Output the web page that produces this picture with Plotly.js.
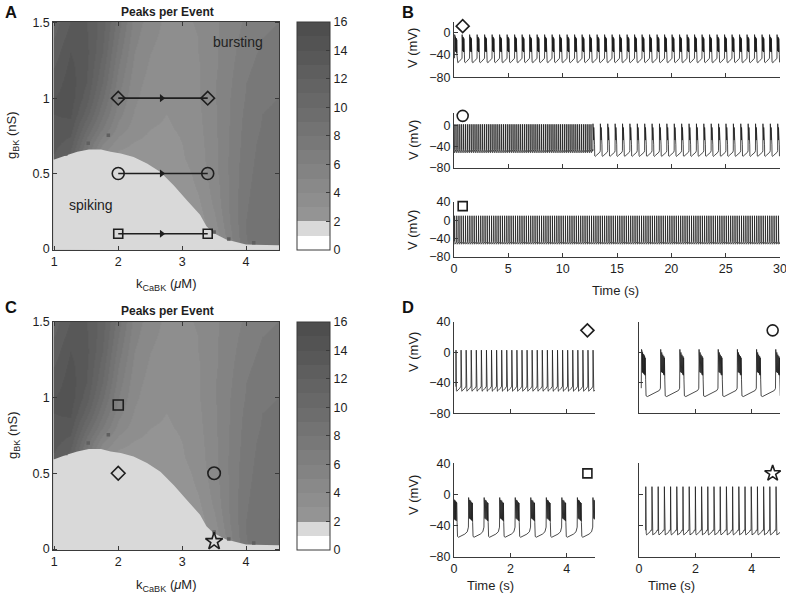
<!DOCTYPE html>
<html><head><meta charset="utf-8">
<script src="https://cdn.plot.ly/plotly-3.0.1.min.js"></script>
<style>body{margin:0;background:#fff}#chart{width:786px;height:598px}</style>
</head><body><div id="chart"></div>
<script>
// ---------------- heatmap data (Peaks per Event) ----------------
const K_GRID = [1, 1.25, 1.5, 1.75, 2, 2.25, 2.5, 2.75, 3, 3.25, 3.5, 3.75, 4, 4.25, 4.5];
const G_GRID = [0, 0.1, 0.2, 0.3, 0.4, 0.5, 0.6, 0.7, 0.8, 0.9, 1.0, 1.1, 1.2, 1.3, 1.4, 1.5];
const PEAKS = [
  [12.5, 11, 7, 3, 2.2, 2.2, 2.2, 2.2, 2.2, 2.2, 3.0, 5.5, 7.9, 8.7, 9.0],
  [12.5, 11, 7, 3, 2.2, 2.2, 2.2, 2.2, 2.2, 2.3, 3.3, 5.8, 8.0, 8.8, 9.0],
  [12.5, 11, 7, 3, 2.2, 2.2, 2.2, 2.2, 2.2, 2.5, 3.8, 6.1, 8.0, 8.8, 9.0],
  [12.5, 11, 7, 3, 2.2, 2.2, 2.2, 2.2, 2.3, 2.8, 4.2, 6.2, 7.9, 8.7, 8.9],
  [12.5, 11, 7, 3, 2.2, 2.2, 2.2, 2.2, 2.4, 3.1, 4.4, 6.2, 7.8, 8.6, 8.8],
  [12.5, 11, 7, 3, 2.2, 2.2, 2.2, 2.3, 2.6, 3.3, 4.6, 6.2, 7.7, 8.5, 8.7],
  [12.8, 11.5, 7.5, 3.5, 2.5, 2.4, 2.4, 2.5, 2.9, 3.5, 4.7, 6.2, 7.6, 8.4, 8.6],
  [13.3, 12.5, 8.5, 5.0, 3.4, 2.9, 2.7, 2.7, 3.0, 3.6, 4.7, 6.1, 7.5, 8.3, 8.5],
  [13.8, 13.5, 10, 7.0, 4.6, 3.5, 3.0, 2.9, 3.1, 3.7, 4.8, 6.1, 7.4, 8.1, 8.4],
  [14.0, 14.2, 11.5, 8.2, 5.4, 3.9, 3.2, 3.0, 3.2, 3.8, 4.8, 6.0, 7.3, 8.0, 8.2],
  [14.0, 14.5, 12.5, 9.2, 6.0, 4.2, 3.4, 3.2, 3.3, 3.9, 4.9, 6.0, 7.1, 7.8, 8.0],
  [13.5, 14.5, 13, 10, 6.5, 4.4, 3.6, 3.4, 3.4, 3.9, 4.9, 5.9, 7.0, 7.6, 7.8],
  [13.0, 14.3, 13.2, 10.5, 7.0, 4.7, 3.8, 3.5, 3.5, 3.9, 4.8, 5.8, 6.8, 7.4, 7.6],
  [12.5, 14.0, 13.3, 11, 7.5, 5.0, 4.0, 3.6, 3.6, 4.0, 4.8, 5.7, 6.6, 7.2, 7.4],
  [12.0, 13.5, 13.2, 11.3, 8.0, 5.3, 4.2, 3.7, 3.7, 4.0, 4.8, 5.6, 6.4, 7.0, 7.2],
  [11.5, 13.0, 13.0, 11.5, 8.5, 5.6, 4.4, 3.8, 3.8, 4.1, 4.8, 5.5, 6.2, 6.8, 7.0]
];
// spiking (1 peak per event) region: upper edge
const SPIKING_K = [1.0, 1.18, 1.36, 1.54, 1.73, 1.88, 2.04, 2.24, 2.45, 2.66, 2.87, 3.07, 3.28, 3.38, 3.49, 3.69, 4.0, 4.5];
const SPIKING_G = [0.593, 0.62, 0.644, 0.66, 0.66, 0.644, 0.633, 0.61, 0.567, 0.51, 0.42, 0.325, 0.226, 0.15, 0.105, 0.062, 0.029, 0.024];
// isolated cells with many peaks
const STRAY_K = [1.18, 1.53, 1.845, 3.5, 3.73, 4.12];
const STRAY_G = [0.63, 0.70, 0.754, 0.112, 0.066, 0.04];
// one grey per integer level 0..15
const LEVEL_GRAYS = [255, 217, 148, 142, 137, 131, 126, 120, 115, 109, 104, 99, 94, 88, 83, 78];
const CB_TICKS = [0, 2, 4, 6, 8, 10, 12, 14, 16];

// markers on the maps
const A_DIAMOND_K = [2, 3.4], A_DIAMOND_G = [1, 1];
const A_CIRCLE_K = [2, 3.4],  A_CIRCLE_G = [0.5, 0.5];
const A_SQUARE_K = [2, 3.4],  A_SQUARE_G = [0.1, 0.1];
const C_SQUARE = [2, 0.95], C_DIAMOND = [2, 0.5], C_CIRCLE = [3.5, 0.5], C_STAR = [3.5, 0.05];

// ---------------- voltage trace data ----------------
// single-event waveforms (time in s from event start, V in mV)
const TONIC_A_T = [0, 0.006, 0.012, 0.020, 0.032, 0.060, 0.100, 0.140, 0.170];
const TONIC_A_V = [-45, 3, -28, -50, -51, -50, -49, -47, -45];
const TONIC_B_T = [0, 0.006, 0.013, 0.022, 0.035, 0.070, 0.120, 0.160, 0.185];
const TONIC_B_V = [-46, 10, -28, -50, -52, -51, -50, -48, -46];
const BURST_C_T = [0, .010, .016, .022, .028, .034, .040, .046, .052, .058, .064, .070, .076, .082, .088, .094, .100, .106, .112, .118, .124, .130, .136, .142, .155, .170, .220, .320, .440, .560, .640, .670];
const BURST_C_V = [-47, 4, -24, 2, -25, 1, -26, 0, -26, -1, -27, -2, -27, -3, -28, -3, -28, -4, -29, -5, -29, -6, -30, -7, -36, -57, -58, -56, -54, -52, -50, -48];
const BURST_B_T = [0, .010, .017, .024, .031, .038, .045, .052, .059, .066, .073, .080, .087, .094, .101, .108, .115, .122, .129, .136, .143, .150, .157, .164, .171, .178, .185, .192, .199, .206, .220, .240, .300, .420, .540, .640, .680];
const BURST_B_V = [-46, -4, -30, -6, -31, -7, -32, -7, -32, -8, -33, -8, -33, -9, -34, -9, -34, -10, -35, -10, -35, -11, -35, -11, -36, -12, -36, -12, -37, -13, -40, -53, -54, -52, -50, -48, -47];
const BURST_S_T = [0, .008, .014, .020, .026, .032, .038, .044, .050, .056, .062, .068, .074, .080, .086, .092, .098, .104, .110, .116, .122, .128, .134, .140, .150, .165, .200, .300, .420, .510, .540];
const BURST_S_V = [-42, -4, -30, -6, -31, -6, -31, -7, -32, -7, -32, -8, -32, -8, -33, -9, -33, -9, -33, -10, -34, -10, -34, -11, -36, -54, -55, -53, -51, -48, -45];
// event timing: [first event start (s), period (s), number of events]
const B_DIAMOND_EVENTS = [0.05, 0.69, 44];
const B_CIRCLE_TONIC_EVENTS = [0.0, 0.175, 73];
const B_CIRCLE_BURST_EVENTS = [12.78, 0.68, 26];
const B_SQUARE_EVENTS = [0.05, 0.2, 150];
const D_DIAMOND_EVENTS = [0.065, 0.18, 28];
const D_CIRCLE_EVENTS = [0.08, 0.68, 8];
const D_SQUARE_EVENTS = [-0.04, 0.551, 10];
const D_STAR_EVENTS = [0.234, 0.22, 23];

// ---------------- helpers ----------------
const W = 786, H = 598;
const px = v => v / W, py = v => 1 - v / H;
const FONT = 'Liberation Sans, Arial, Helvetica, sans-serif';
const INK = '#1e1e1e', AX = '#3a3a3a';

function build(segs) {
  const x = [], y = [];
  segs.forEach(([ev, T, V]) => {
    const [s, p, n] = ev;
    for (let k = 0; k < n; k++) {
      const t0 = s + k * p;
      for (let i = 0; i < T.length; i++) { x.push(t0 + T[i]); y.push(V[i]); }
    }
  });
  return { x, y };
}

const colorscale = [];
LEVEL_GRAYS.forEach((g, i) => {
  const c = `rgb(${g},${g},${g})`;
  colorscale.push([i / 16, c]);
  colorscale.push([(i + 1) / 16, c]);
});

const traces = [];
function mapPanel(xa, ya, cbTop, cbLen) {
  traces.push({
    type: 'heatmap', x: K_GRID, y: G_GRID, z: PEAKS, xaxis: xa, yaxis: ya,
    zmin: 0, zmax: 16, zsmooth: 'best', colorscale: colorscale, hoverinfo: 'skip',
    colorbar: {
      x: px(296.5), xanchor: 'left', y: py(cbTop), yanchor: 'top',
      len: cbLen, lenmode: 'pixels', thickness: 33, thicknessmode: 'pixels',
      xpad: 0, ypad: 0, outlinewidth: 1, outlinecolor: AX, borderwidth: 0,
      tickmode: 'array', tickvals: CB_TICKS, ticks: 'inside', ticklen: 4, tickcolor: AX,
      tickfont: { size: 12.5, family: FONT, color: INK }
    }
  });
  const polyX = [0.9].concat(SPIKING_K, [4.6, 4.6, 0.9]);
  const polyY = [SPIKING_G[0]].concat(SPIKING_G, [SPIKING_G[SPIKING_G.length - 1], -0.1, -0.1]);
  traces.push({ type: 'scatter', mode: 'lines', x: polyX, y: polyY, fill: 'toself',
    fillcolor: 'rgb(217,217,217)', line: { width: 0, color: 'rgba(0,0,0,0)' }, xaxis: xa, yaxis: ya, hoverinfo: 'skip' });
  traces.push({ type: 'scatter', mode: 'markers', x: STRAY_K, y: STRAY_G, xaxis: xa, yaxis: ya,
    marker: { symbol: 'square', size: 3.5, color: 'rgb(95,95,95)' }, hoverinfo: 'skip' });
}
mapPanel('x', 'y', 21.7, 228.3);
mapPanel('x2', 'y2', 321.7, 228.3);

// A: paths with arrows
function path(xs, ys, sym, size) {
  traces.push({ type: 'scatter', mode: 'lines', x: xs, y: ys, xaxis: 'x', yaxis: 'y',
    line: { color: INK, width: 1.6 }, hoverinfo: 'skip' });
  traces.push({ type: 'scatter', mode: 'markers', x: [(xs[0] + xs[1]) / 2 - 0.02], y: [ys[0]], xaxis: 'x', yaxis: 'y',
    marker: { symbol: 'triangle-right', size: 7, color: INK }, hoverinfo: 'skip' });
  traces.push({ type: 'scatter', mode: 'markers', x: xs, y: ys, xaxis: 'x', yaxis: 'y',
    marker: { symbol: sym, size: size, color: INK, line: { width: 1.6, color: INK } }, hoverinfo: 'skip' });
}
path(A_DIAMOND_K, A_DIAMOND_G, 'diamond-open', 10.5);
path(A_CIRCLE_K, A_CIRCLE_G, 'circle-open', 12);
path(A_SQUARE_K, A_SQUARE_G, 'square-open', 9);

function mark(xa, ya, pt, sym, size) {
  traces.push({ type: 'scatter', mode: 'markers', x: [pt[0]], y: [pt[1]], xaxis: xa, yaxis: ya,
    marker: { symbol: sym, size: size, color: INK, line: { width: 1.6, color: INK } }, hoverinfo: 'skip', cliponaxis: false });
}
mark('x2', 'y2', C_SQUARE, 'square-open', 10);
mark('x2', 'y2', C_DIAMOND, 'diamond-open', 10.5);
mark('x2', 'y2', C_CIRCLE, 'circle-open', 12.5);
mark('x2', 'y2', C_STAR, 'star-open', 13);

// voltage traces
function vtrace(xa, ya, d) {
  traces.push({ type: 'scatter', mode: 'lines', x: d.x, y: d.y, xaxis: xa, yaxis: ya,
    line: { color: INK, width: 0.8 }, hoverinfo: 'skip' });
}
vtrace('x3', 'y3', build([[B_DIAMOND_EVENTS, BURST_B_T, BURST_B_V]]));
vtrace('x4', 'y4', build([[B_CIRCLE_TONIC_EVENTS, TONIC_A_T, TONIC_A_V], [B_CIRCLE_BURST_EVENTS, BURST_C_T, BURST_C_V]]));
vtrace('x5', 'y5', build([[B_SQUARE_EVENTS, TONIC_B_T, TONIC_B_V]]));
vtrace('x6', 'y6', build([[D_DIAMOND_EVENTS, TONIC_A_T, TONIC_A_V]]));
vtrace('x7', 'y7', build([[D_CIRCLE_EVENTS, BURST_C_T, BURST_C_V]]));
vtrace('x8', 'y8', build([[D_SQUARE_EVENTS, BURST_S_T, BURST_S_V]]));
vtrace('x9', 'y9', build([[D_STAR_EVENTS, TONIC_B_T, TONIC_B_V]]));

mark('x3', 'y3', [0.8, 11], 'diamond-open', 10);
mark('x4', 'y4', [0.8, 19], 'circle-open', 11);
mark('x5', 'y5', [0.8, 31], 'square-open', 9);
mark('x6', 'y6', [4.73, 29], 'diamond-open', 10);
mark('x7', 'y7', [4.74, 29], 'circle-open', 11);
mark('x8', 'y8', [4.73, 27], 'square-open', 9);
mark('x9', 'y9', [4.74, 27], 'star-open', 12);

// ---------------- layout ----------------
const tickFont = { size: 12.5, family: FONT, color: INK };
function ax(dom, range, extra) {
  return Object.assign({
    domain: dom, range: range, showgrid: false, zeroline: false, showline: true,
    linecolor: AX, linewidth: 1, ticks: 'inside', ticklen: 4, tickcolor: AX, tickwidth: 1,
    tickfont: tickFont, fixedrange: true, ticklabeloverflow: 'allow'
  }, extra || {});
}
const layout = {
  width: W, height: H, margin: { l: 0, r: 0, t: 0, b: 0 },
  paper_bgcolor: '#fff', plot_bgcolor: '#fff', showlegend: false,
  font: { family: FONT, size: 12.5, color: INK },
  // A
  xaxis: ax([px(53.3), px(279.3)], [0.984, 4.52], { anchor: 'y', mirror: 'ticks', tickvals: [1, 2, 3, 4] }),
  yaxis: ax([py(249.5), py(21.7)], [-0.004, 1.507], { anchor: 'x', mirror: 'ticks', tickvals: [0, 0.5, 1, 1.5], ticktext: ['0', '0.5', '1', '1.5'] }),
  // C
  xaxis2: ax([px(53.3), px(279.3)], [0.984, 4.52], { anchor: 'y2', mirror: 'ticks', tickvals: [1, 2, 3, 4] }),
  yaxis2: ax([py(550), py(321.7)], [-0.0066, 1.5], { anchor: 'x2', mirror: 'ticks', tickvals: [0, 0.5, 1, 1.5], ticktext: ['0', '0.5', '1', '1.5'] }),
  // B
  xaxis3: ax([px(454), px(780)], [0, 30], { anchor: 'y3', tickvals: [0, 5, 10, 15, 20, 25, 30], showticklabels: false }),
  yaxis3: ax([py(77.3), py(21.7)], [-80, 19], { anchor: 'x3', tickvals: [-80, -40, 0] }),
  xaxis4: ax([px(454), px(780)], [0, 30], { anchor: 'y4', tickvals: [0, 5, 10, 15, 20, 25, 30], showticklabels: false }),
  yaxis4: ax([py(168), py(112.7)], [-80, 25], { anchor: 'x4', tickvals: [-80, -40, 0] }),
  xaxis5: ax([px(454), px(780)], [0, 30], { anchor: 'y5', tickvals: [0, 5, 10, 15, 20, 25, 30] }),
  yaxis5: ax([py(257), py(202)], [-80, 40], { anchor: 'x5', tickvals: [-80, -40, 0, 40] }),
  // D
  xaxis6: ax([px(454), px(595)], [0, 5], { anchor: 'y6', tickvals: [0, 2, 4], showticklabels: false }),
  yaxis6: ax([py(413.3), py(322)], [-80, 40], { anchor: 'x6', tickvals: [-80, -40, 0, 40] }),
  xaxis7: ax([px(639), px(780)], [0, 5], { anchor: 'y7', tickvals: [0, 2, 4], showticklabels: false }),
  yaxis7: ax([py(413.3), py(322)], [-80, 40], { anchor: 'x7', tickvals: [-80, -40, 0, 40], showticklabels: false }),
  xaxis8: ax([px(454), px(595)], [0, 5], { anchor: 'y8', tickvals: [0, 2, 4] }),
  yaxis8: ax([py(556.7), py(463.3)], [-80, 40], { anchor: 'x8', tickvals: [-80, -40, 0, 40] }),
  xaxis9: ax([px(639), px(780)], [0, 5], { anchor: 'y9', tickvals: [0, 2, 4] }),
  yaxis9: ax([py(556.7), py(463.3)], [-80, 40], { anchor: 'x9', tickvals: [-80, -40, 0, 40], showticklabels: false }),
  annotations: []
};

function note(text, x, y, opts) {
  layout.annotations.push(Object.assign({
    text: text, x: px(x), y: py(y), xref: 'paper', yref: 'paper', showarrow: false,
    xanchor: 'center', yanchor: 'middle', font: { family: FONT, size: 13, color: INK }
  }, opts || {}));
}
// panel letters
note('<b>A</b>', 3, 12, { xanchor: 'left', font: { family: FONT, size: 16.5, color: '#111' } });
note('<b>B</b>', 400, 12, { xanchor: 'left', font: { family: FONT, size: 16.5, color: '#111' } });
note('<b>C</b>', 3, 306.5, { xanchor: 'left', font: { family: FONT, size: 16.5, color: '#111' } });
note('<b>D</b>', 400, 307, { xanchor: 'left', font: { family: FONT, size: 16.5, color: '#111' } });
// map titles
note('<b>Peaks per Event</b>', 167, 11.5, { font: { family: FONT, size: 12, color: INK } });
note('<b>Peaks per Event</b>', 167, 311, { font: { family: FONT, size: 12, color: INK } });
// map axis titles
note('k<sub>CaBK</sub> (<i>μ</i>M)', 166, 284);
note('k<sub>CaBK</sub> (<i>μ</i>M)', 166, 585);
note('g<sub>BK</sub> (nS)', 13, 135, { textangle: -90 });
note('g<sub>BK</sub> (nS)', 13, 435, { textangle: -90 });
// region labels
layout.annotations.push({ text: 'bursting', x: 3.88, y: 1.37, xref: 'x', yref: 'y', showarrow: false, font: { family: FONT, size: 14, color: '#222' } });
layout.annotations.push({ text: 'spiking', x: 1.57, y: 0.29, xref: 'x', yref: 'y', showarrow: false, font: { family: FONT, size: 14, color: '#222' } });
// trace axis titles
note('V (mV)', 413, 48, { textangle: -90 });
note('V (mV)', 413, 140, { textangle: -90 });
note('V (mV)', 413, 230, { textangle: -90 });
note('V (mV)', 413, 352, { textangle: -90 });
note('V (mV)', 413, 495, { textangle: -90 });
note('Time (s)', 615, 290);
note('Time (s)', 490, 585);
note('Time (s)', 671, 585);

Plotly.newPlot('chart', traces, layout, { staticPlot: true, displayModeBar: false });
</script>
</body></html>
